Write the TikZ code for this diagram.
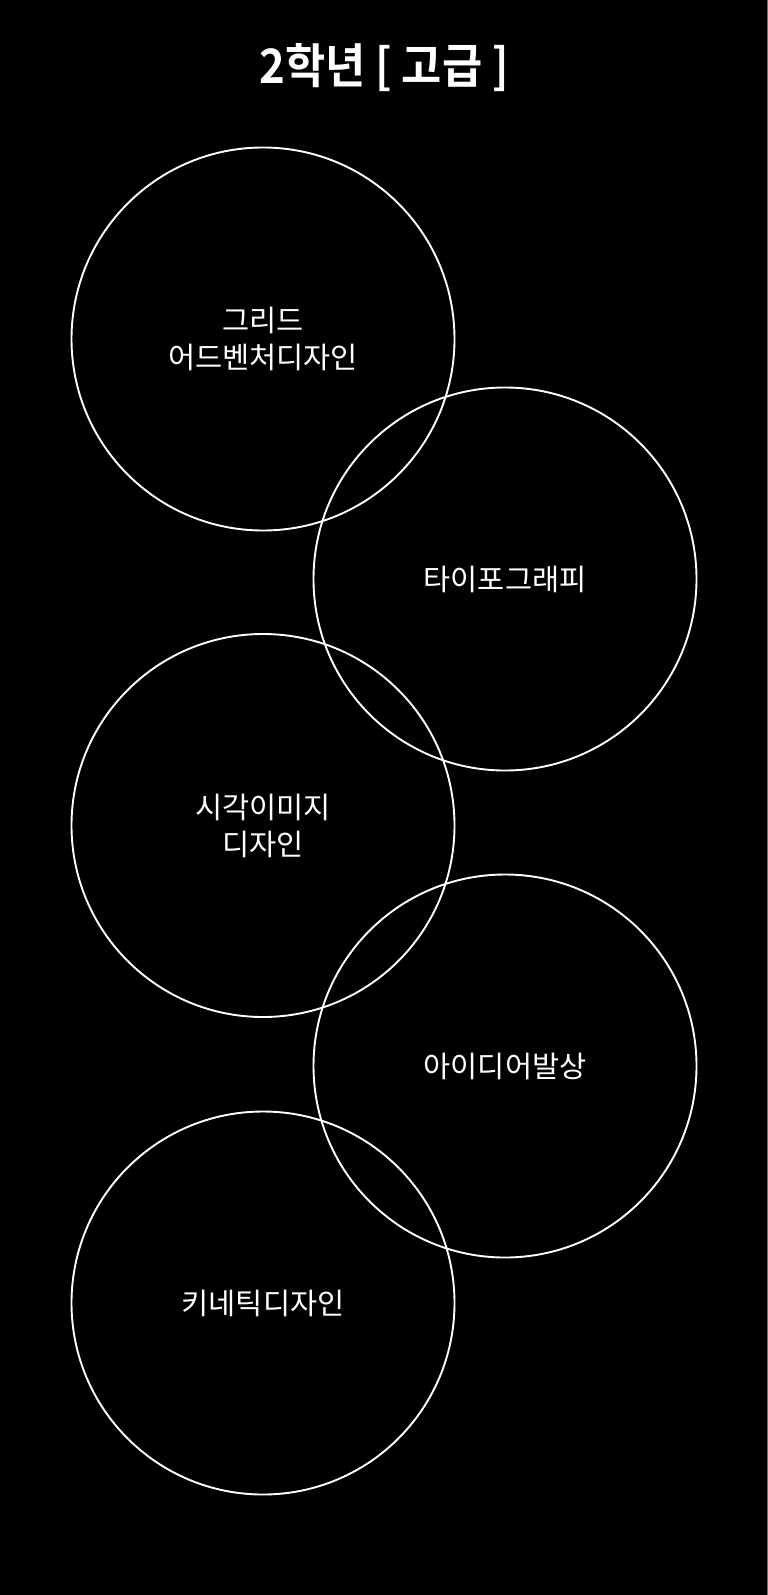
\documentclass[tikz,border=0pt]{standalone}
\usepackage{fontspec}
\usepackage{xcolor}
\usepackage{tikz}
\newfontfamily\krfont{Noto Sans CJK KR}
\newfontfamily\krtitle{Noto Sans CJK KR Bold}[FakeStretch=0.92]
\definecolor{plan-black}{RGB}{0, 0, 0}
\definecolor{plan-white}{RGB}{255, 255, 255}
\definecolor{plan-gray}{RGB}{110, 110, 110}

\begin{document}
\begin{tikzpicture}[x=1pt, y=-1pt,
    course/.style={circle, draw=plan-white, line width=1.9pt, minimum size=383pt, inner sep=0pt,
      align=center, text=plan-white, font=\krfont\fontsize{29.5}{37}\selectfont}]
          \useasboundingbox (0, 0) rectangle (768, 1595);
          \fill[plan-black] (0, 0) rectangle (768, 1595);
          \draw[plan-gray, line width=1pt] (767.5, 0) -- (767.5, 1595);

          \node[text=plan-white, font=\krtitle\fontsize{47.5}{47.5}\selectfont] (title) at (384, 68) {2학년 [ 고급 ]};

          \node[course] (grid) at (263, 339) {그리드\\어드벤처디자인};
          \node[course] (typo) at (505, 579) {타이포그래피};
          \node[course] (visual) at (263, 825.5) {시각이미지\\디자인};
          \node[course] (idea) at (505, 1066) {아이디어발상};
          \node[course] (kinetic) at (263, 1303) {키네틱디자인};
        \end{tikzpicture}
\end{document}
